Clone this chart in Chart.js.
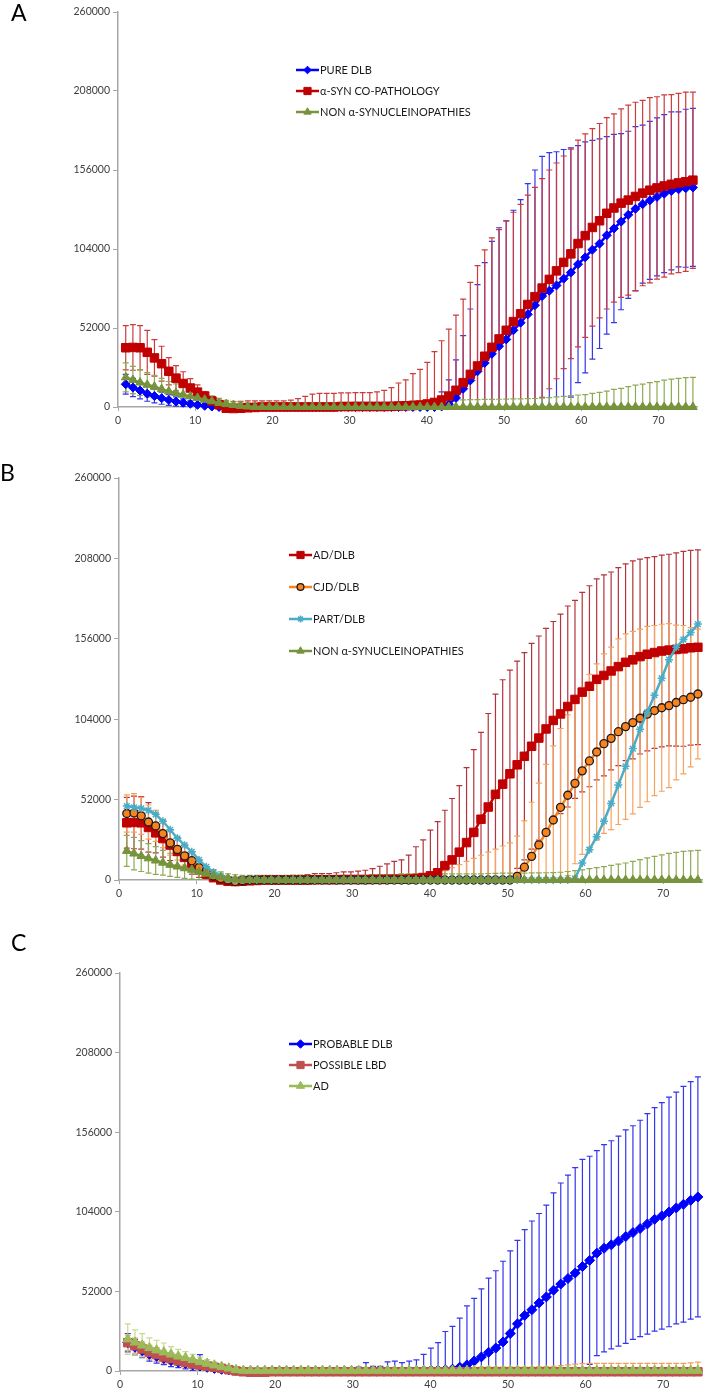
<!DOCTYPE html>
<html>
<head>
<meta charset="utf-8">
<script src="https://cdn.jsdelivr.net/npm/chart.js@4.4.1/dist/chart.umd.min.js"></script>
<style>
  body { margin: 0; background: #fff; }
  #page { position: relative; width: 709px; height: 1389px; overflow: hidden; font-family: Lato, "Open Sans", sans-serif; }
  #page canvas { position: absolute; left: 0; }
  .tag { position: absolute; font-size: 23px; line-height: 1; color: #000; }
</style>
</head>
<body>
<div id="page">
  <canvas id="chartA" width="709" height="460" style="top:0px"></canvas>
  <canvas id="chartB" width="709" height="460" style="top:460px"></canvas>
  <canvas id="chartC" width="709" height="469" style="top:920px"></canvas>
  <div class="tag" style="left:11px;top:1px">A</div>
  <div class="tag" style="left:0px;top:461px">B</div>
  <div class="tag" style="left:11px;top:931px">C</div>
</div>
<script>
// Reading times (hours) shared by every curve
const hours = [
  1.00, 1.93, 2.86, 3.79, 4.72, 5.65, 6.58, 7.51, 8.44, 9.37,
  10.30, 11.23, 12.16, 13.09, 14.02, 14.95, 15.88, 16.81, 17.74, 18.67,
  19.60, 20.53, 21.46, 22.39, 23.32, 24.25, 25.18, 26.11, 27.04, 27.97,
  28.90, 29.83, 30.76, 31.69, 32.62, 33.55, 34.48, 35.41, 36.34, 37.27,
  38.20, 39.13, 40.06, 40.99, 41.92, 42.85, 43.78, 44.71, 45.64, 46.57,
  47.50, 48.43, 49.36, 50.29, 51.22, 52.15, 53.08, 54.01, 54.94, 55.87,
  56.80, 57.73, 58.66, 59.59, 60.52, 61.45, 62.38, 63.31, 64.24, 65.17,
  66.10, 67.03, 67.96, 68.89, 69.82, 70.75, 71.68, 72.61, 73.54, 74.47
];
const yTicks = [0, 52000, 104000, 156000, 208000, 260000];
const xTicks = [0, 10, 20, 30, 40, 50, 60, 70];

// ---- Panel A (values in thousands, sd = error bar half length)
const pureDlb = [
  15, 12.8, 10.8, 8.8, 7.2, 5.8, 4.6, 3.6, 2.8, 2.1,
  1.4, 0.8, 0.3, 0, 0, 0, 0, 0, 0, 0,
  0, 0, 0, 0, 0, 0, 0, 0, 0, 0,
  0, 0, 0, 0, 0, 0, 0, 0, 0, 0,
  0, 0, 0, 0, 0.4, 1.8, 6, 12, 17.5, 23.5,
  29, 35, 40, 44.5, 50.5, 55.5, 61, 67, 73, 76.5,
  80, 84.5, 88.5, 94, 98.5, 103.5, 107.5, 113, 117.5, 122,
  126.5, 130.5, 133.5, 136, 138.3, 140.4, 142.2, 143.3, 144, 144.5
];
const pureDlbSd = [
  6.5, 6, 5.5, 5, 4.5, 4, 3.5, 3, 2.5, 2,
  1.5, 1, 0.8, 0.5, 0.5, 0.5, 0.5, 0.5, 0.5, 0.5,
  1, 1, 1, 1, 1.5, 1.5, 1.5, 2, 2, 2,
  2.5, 2.5, 3, 3, 3, 3, 3, 3, 3, 3,
  3, 3, 3.5, 5, 9.5, 16, 25, 35, 47, 57,
  66, 74, 78, 78, 79, 81, 86, 89, 92, 91,
  88, 85, 82, 78, 76, 72, 69, 65, 62, 58,
  55, 54, 52, 52, 52, 52, 52, 51, 52, 52
];
const synCoPath = [
  39, 39.2, 39, 36, 32.3, 28.5, 23.5, 19, 15.5, 12.5,
  9.8, 7.2, 4, 1.5, -0.8, -1, -0.8, -0.5, -0.3, 0,
  0, 0, 0, 0, 0, 0, 0, 0, 0, 0,
  0.3, 0.3, 0.3, 0.3, 0.3, 0.3, 0.3, 0.4, 0.6, 0.8,
  1, 1.3, 2, 3, 4.6, 7.2, 11, 16, 21.5, 27,
  33.4, 39.3, 44.8, 50.5, 56.2, 61.4, 67.5, 72.6, 78.3, 84,
  89.6, 95.2, 100.8, 107.6, 112.8, 118.2, 122.6, 127.5, 131, 134.2,
  136.2, 138.6, 140.8, 142.7, 144.2, 145.5, 146.6, 147.5, 148.3, 149.3
];
const synCoPathSd = [
  14.5, 15, 14.5, 14.5, 12, 11.5, 9, 8.3, 7.7, 6.2,
  4.8, 3, 2.5, 3, 4, 4.5, 4.5, 4.5, 4.3, 4,
  4, 4, 4, 4.5, 5.5, 7, 8.5, 9, 9, 9,
  9, 9, 9.2, 9.2, 9.2, 9.6, 10.6, 12.3, 15.2, 17,
  21, 23.5, 27.4, 33.4, 39, 44, 49.5, 55, 60.5, 66,
  70, 72, 72, 72, 72, 72, 72, 72, 72, 72,
  71, 70, 69, 68, 67, 65, 64, 63, 62, 62,
  62.5, 62, 61, 61, 60, 60, 59, 59, 59, 58
];
const nonSynA = [
  19.5, 17.8, 16.1, 14.6, 13.4, 11.8, 10.3, 9.2, 8.1, 7,
  6, 4.8, 3.8, 2.7, 1.9, 1.3, 0.7, 0.3, 0, 0,
  0, 0, 0, 0, 0, 0, 0, 0, 0, 0,
  0, 0, 0, 0, 0, 0, 0, 0, 0, 0,
  0, 0, 0, 0, 0, 0, 0, 0, 0, 0,
  0, 0, 0, 0, 0, 0, 0, 0, 0, 0,
  0, 0, 0, 0, 0, 0, 0, 0, 0, 0,
  0, 0, 0, 0, 0, 0, 0, 0, 0, 0
];
const nonSynASd = [
  9.5, 9, 8.5, 8, 7.5, 7, 6.5, 6, 5.5, 5,
  4.5, 4, 3.5, 3, 2.5, 2.5, 2.5, 2.5, 2.5, 2.5,
  2.5, 2.5, 2.5, 2.5, 2.5, 2.5, 2.5, 2.5, 2.5, 2.5,
  3, 3, 3, 3, 3, 3, 3, 3, 3.5, 3.5,
  4, 4, 4.2, 4.3, 4.4, 4.5, 4.6, 4.7, 4.8, 4.9,
  5, 5, 5.1, 5.2, 5.3, 5.4, 5.5, 5.6, 5.8, 6.2,
  6.6, 7, 7.5, 7.9, 8.2, 9, 9.6, 10.5, 11.6, 12.3,
  13.4, 14.4, 15.1, 16, 16.7, 17.7, 18.4, 18.9, 19.3, 19.5
];

// ---- Panel B
const adDlb = [
  37, 37.2, 37, 34, 30.5, 26.8, 22.6, 18.5, 14.6, 10.8,
  7.2, 3.8, 1.5, 0, -0.8, -1, -0.8, -0.5, -0.3, 0,
  0, 0, 0, 0, 0, 0, 0.2, 0.2, 0.2, 0.2,
  0.3, 0.3, 0.3, 0.3, 0.4, 0.4, 0.4, 0.5, 0.5, 0.6,
  1, 1.6, 2.7, 4.7, 9.3, 13, 18, 24.2, 30.8, 39.3,
  47.2, 55.4, 62, 68.7, 74.5, 80, 86.5, 91.8, 97.7, 103.2,
  107.4, 112.2, 116.8, 121.5, 125.3, 129.8, 132.3, 135.2, 138, 140.8,
  142.4, 144.5, 146, 147.1, 148.1, 148.7, 149.1, 149.5, 150.2, 150.5
];
const adDlbSd = [
  16.4, 17, 17, 16, 13, 12, 10, 9, 8, 7,
  5.5, 4, 3, 2.5, 2.5, 2.5, 2.5, 2.5, 2.5, 2.5,
  2.5, 2.5, 2.5, 3, 3, 3.5, 4, 4, 4, 4.5,
  5, 5, 5.5, 6, 7, 8.5, 10, 11.5, 12.5, 15.5,
  20.5, 24.3, 29.5, 33, 35.8, 39.7, 43, 48.5, 53.5, 56.2,
  60.5, 64.8, 67.5, 67, 67, 67, 66.5, 66, 65, 64,
  64.5, 65, 64, 64.5, 65, 65, 65, 64, 64, 63.6,
  64, 63, 62.5, 62, 62, 62, 62.5, 63, 63, 63
];
const cjdDlb = [
  43, 43.4, 41.5, 37.5, 35, 30, 24, 19.8, 15.6, 12.5,
  8, 4.8, 2.6, 1, 0, -1, -0.5, 0, 0, 0,
  0, 0, 0, 0, 0, 0, 0, 0, 0, 0,
  0, 0, 0, 0, 0, 0, 0, 0, 0, 0,
  0, 0, 0, 0, 0, 0, 0, 0, 0, 0,
  0, 0, 0, 0, 2.4, 8.3, 15.3, 22.7, 30.8, 38.8,
  47, 54.8, 62.5, 70.6, 77, 82.8, 88.2, 91.6, 95.9, 99.2,
  101.8, 104.6, 107.3, 109.6, 111.4, 112.8, 114.8, 116.6, 118.2, 120.3
];
const cjdDlbSd = [
  12, 12.5, 12, 11, 10, 9, 8, 7, 6, 5,
  4, 3, 2, 1.5, 1.5, 1.5, 1.5, 1.5, 1.5, 1.5,
  1.5, 1.5, 1.5, 1.5, 1.5, 1.5, 1.5, 1.5, 1.5, 1.5,
  2, 2, 2, 2, 2, 2, 2, 2, 2, 2,
  2.5, 3, 3.5, 4.5, 6, 8, 10, 12, 14, 16,
  18, 20, 22, 24, 26, 30, 35, 40, 44, 48,
  51, 52, 52, 54, 56, 57, 58, 59, 60, 60,
  59, 57.6, 56.7, 55, 54, 53, 50, 48, 45, 42
];
const partDlb = [
  47.8, 47, 46.4, 45, 42.5, 38, 32.5, 27, 22.5, 18.2,
  13, 8.5, 5, 2.6, 0.6, 0, 0, 0, 0, 0,
  0, 0, 0, 0, 0, 0, 0, 0, 0, 0,
  0, 0, 0, 0, 0, 0, 0, 0, 0, 0,
  0, 0, 0, 0, 0, 0, 0, 0, 0, 0,
  0, 0, 0, 0, 0, 0, 0, 0, 0, 0,
  0, 0, 1, 11, 19.6, 28, 38, 49.5, 61.5, 73.5,
  85, 97.5, 108.5, 119.5, 130.5, 142.5, 150.5, 155.5, 160, 165.5
];
const nonSynB = [
  18.8, 17.1, 15.5, 14, 12.6, 11.2, 9.8, 8.7, 7.6, 6.6,
  5.2, 4, 2.8, 1.8, 1, 0.4, 0, 0, 0, 0,
  0, 0, 0, 0, 0, 0, 0, 0, 0, 0,
  0, 0, 0, 0, 0, 0, 0, 0, 0, 0,
  0, 0, 0, 0, 0, 0, 0, 0, 0, 0,
  0, 0, 0, 0, 0, 0, 0, 0, 0, 0,
  0, 0, 0, 0, 0, 0, 0, 0, 0, 0,
  0, 0, 0, 0, 0, 0, 0, 0, 0, 0
];
const nonSynBSd = [
  10, 10.5, 10, 9.5, 9, 8, 7.5, 7, 6.5, 6,
  5, 4.5, 4, 3.5, 3, 3, 3, 3, 3, 3,
  3, 3, 3, 3, 3, 3, 3, 3, 3, 3,
  3, 3, 3, 3, 3.5, 3.5, 3.5, 3.5, 4, 4,
  4, 4, 4, 4, 4, 4, 4, 4, 4, 4,
  4.2, 4.3, 4.4, 4.5, 4.5, 4.5, 4.6, 4.6, 4.7, 4.8,
  5, 5.5, 6, 6.6, 7.3, 8, 8.7, 9.5, 10.3, 11,
  12, 13.2, 14.3, 15.3, 16.3, 17.2, 17.9, 18.5, 18.9, 19.2
];

// ---- Panel C
const probableDlb = [
  18.5, 15.5, 13.3, 11, 9.6, 8.2, 6.8, 5.7, 4.9, 3.9,
  3.2, 2.4, 1.7, 1.1, 0.7, 0.3, 0, 0, 0, 0,
  0, 0, 0, 0, 0, 0, 0, 0, 0, 0,
  0, 0, 0, 0, 0, 0, 0, 0, 0, 0,
  0.3, 0.4, 0.5, 0.6, 0.8, 1.2, 2.5, 4, 6.5, 9.2,
  12.2, 15, 19, 24.5, 30.8, 36.3, 40, 44.5, 48.4, 52.8,
  56.8, 60.4, 64, 68.2, 72.3, 77, 80.2, 82.4, 84.9, 87.8,
  90.4, 93.1, 96.1, 99.1, 101.3, 103.9, 106.5, 108.9, 111.5, 113.7
];
const probableDlbSd = [
  6, 5, 4.5, 4.5, 4.5, 4, 4, 3.5, 3.5, 3.5,
  7.5, 3, 2.5, 2, 1.5, 1.2, 1, 1, 1, 1,
  1, 1, 1.2, 1.5, 1.5, 1.2, 1.5, 1.5, 1.5, 2,
  2, 2, 2.5, 5.5, 3, 3, 6, 6.5, 5.5, 6.5,
  7, 10.5, 14.5, 18, 25, 28, 32, 38.5, 41, 44.5,
  48.5, 50.5, 52.7, 54, 54.5, 56, 58, 58.4, 60, 63.5,
  66, 67.5, 68.8, 70, 68, 67, 67.7, 68, 68.6, 69.7,
  69.8, 70.7, 72, 73, 74, 75, 75.7, 77, 77.6, 78.4
];
const possibleLbd = [
  18.5, 16.5, 14.4, 12.3, 10.8, 9.2, 8.1, 6.6, 5.6, 4.6,
  3.9, 3.2, 2.4, 1.7, 0.8, 0, -0.5, -0.8, -0.8, -0.8,
  -0.5, -0.5, -0.5, -0.5, -0.5, -0.5, -0.5, -0.5, -0.5, -0.5,
  -0.5, -0.5, -0.5, -0.5, -0.5, -0.5, -0.5, -0.5, -0.5, -0.5,
  -0.5, -0.5, -0.5, -0.5, -0.5, -0.5, -0.5, -0.5, -0.5, -0.5,
  -0.5, -0.5, -0.5, -0.5, -0.5, -0.5, -0.5, -0.5, -0.5, -0.5,
  -0.5, -0.5, -0.5, -0.5, -0.5, -0.5, -0.5, -0.5, -0.5, -0.5,
  -0.5, -0.5, -0.5, -0.5, -0.5, -0.5, -0.5, -0.5, -0.5, -0.5
];
const possibleLbdSd = [
  5, 5, 4.5, 4.5, 4.5, 4, 3.5, 3, 3, 2.5,
  2, 2, 1.5, 1.5, 1, 1, 1, 1, 1, 1,
  1, 1, 1, 1, 1, 1, 1, 1, 1, 1,
  1.5, 1.5, 1.5, 1.5, 1.5, 1.5, 1.5, 1.5, 1.5, 1.5,
  2, 2, 2, 2.5, 2.5, 2.5, 2.5, 2.5, 2.5, 3,
  3, 3, 3, 3, 3, 3, 3, 3.2, 3.4, 3.6,
  4, 4.5, 5, 5.3, 5.5, 5.5, 5.5, 5.5, 5.5, 5.5,
  5.5, 5.5, 5.5, 5.5, 5.5, 5.5, 5.5, 5.5, 5.8, 6.3
];
const adC = [
  20.8, 18.7, 16.8, 15.1, 13.6, 12.3, 10.9, 9.6, 8.6, 7.3,
  6, 4.9, 3.8, 2.8, 1.8, 0.8, 0.3, 0.3, 0.3, 0.3,
  0.3, 0.3, 0.3, 0.3, 0.3, 0.3, 0.3, 0.3, 0.3, 0.3,
  0.3, 0.3, 0.3, 0.3, 0.3, 0.3, 0.3, 0.3, 0.3, 0.3,
  0.3, 0.3, 0.3, 0.3, 0.3, 0.3, 0.3, 0.3, 0.3, 0.3,
  0.3, 0.3, 0.3, 0.3, 0.3, 0.3, 0.3, 0.3, 0.3, 0.3,
  0.3, 0.3, 0.3, 0.3, 0.3, 0.3, 0.3, 0.3, 0.3, 0.3,
  0.3, 0.3, 0.3, 0.3, 0.3, 0.3, 0.3, 0.3, 0.3, 0.3
];
const adCSd = [
  10, 8.2, 7.6, 6.5, 6.5, 6, 5, 4.5, 4, 3.5,
  3, 2.5, 2, 1.5, 1.5, 1.5, 1.5, 1.5, 1.5, 1.5,
  1.5, 1.5, 1.5, 1.5, 1.5, 1.5, 1.5, 1.5, 1.5, 1.5,
  1.5, 1.5, 1.5, 1.5, 1.5, 1.5, 1.5, 1.5, 1.5, 1.5,
  1.5, 1.5, 1.5, 1.5, 1.5, 1.5, 1.5, 1.5, 1.5, 1.5,
  1.5, 1.5, 1.5, 1.5, 1.5, 1.5, 1.5, 1.5, 1.5, 1.5,
  1.5, 1.5, 1.5, 1.5, 1.5, 1.5, 1.5, 1.5, 1.5, 1.5,
  1.5, 1.5, 1.5, 1.5, 1.5, 1.5, 1.5, 1.5, 1.5, 1.5
];

const FONT = 'Lato, "Open Sans", sans-serif';

// Error bars (mean +/- sd) drawn under the lines, clipped to plot area
const errorBarPlugin = {
  id: 'errorBars',
  beforeDatasetsDraw(chart) {
    const { ctx, chartArea, scales } = chart;
    const xs = scales.x, ys = scales.y;
    ctx.save();
    ctx.beginPath();
    ctx.rect(chartArea.left, chartArea.top - 2, chartArea.width + 4, chartArea.height + 2);
    ctx.clip();
    chart.data.datasets.forEach(ds => {
      if (!ds.sd) return;
      ctx.strokeStyle = ds.errColor;
      ctx.lineWidth = 1.2;
      ds.data.forEach((pt, i) => {
        const e = ds.sd[i] * 1000;
        const px = xs.getPixelForValue(pt.x);
        const hi = ys.getPixelForValue(pt.y + e);
        const lo = ys.getPixelForValue(pt.y - e);
        ctx.beginPath();
        ctx.moveTo(px, hi); ctx.lineTo(px, lo);
        ctx.moveTo(px - 3, hi); ctx.lineTo(px + 3, hi);
        ctx.moveTo(px - 3, lo); ctx.lineTo(px + 3, lo);
        ctx.stroke();
      });
    });
    ctx.restore();
  }
};

// Excel-like legend floating inside the plot
const floatLegend = {
  id: 'floatLegend',
  afterDraw(chart, args, opts) {
    const ctx = chart.ctx;
    ctx.save();
    ctx.font = '11px ' + FONT;
    ctx.textBaseline = 'middle';
    chart.data.datasets.forEach((ds, i) => {
      const y = opts.top + i * opts.gap;
      ctx.strokeStyle = ds.borderColor;
      ctx.lineWidth = 2.5;
      ctx.beginPath();
      ctx.moveTo(opts.left, y);
      ctx.lineTo(opts.left + 23, y);
      ctx.stroke();
      ctx.fillStyle = ds.pointBackgroundColor;
      ctx.strokeStyle = ds.pointBorderColor;
      ctx.lineWidth = ds.pointBorderWidth;
      Chart.helpers.drawPoint(ctx, {
        pointStyle: ds.pointStyle, radius: ds.pointRadius * 0.85,
        borderWidth: ds.pointBorderWidth, rotation: 0
      }, opts.left + 11.5, y);
      ctx.fillStyle = '#1a1a1a';
      ctx.fillText(ds.label, opts.left + 24, y + 0.5);
    });
    ctx.restore();
  }
};

function series(label, vals, sd, s) {
  return {
    label: label,
    data: hours.map((h, i) => ({ x: h, y: vals[i] * 1000 })),
    sd: sd,
    errColor: s.err,
    borderColor: s.line,
    borderWidth: s.width || 2.5,
    pointStyle: s.style,
    pointRadius: s.r,
    pointHoverRadius: s.r,
    pointBackgroundColor: s.fill || s.line,
    pointBorderColor: s.edge || s.line,
    pointBorderWidth: s.edgeWidth || 1,
    tension: 0,
    clip: false
  };
}

function makePanel(id, canvasH, area, legend, datasets) {
  const n = datasets.length;
  datasets.forEach((d, i) => { d.order = n - 1 - i; });
  const axisCol = '#a6a6a6';
  return new Chart(document.getElementById(id), {
    type: 'line',
    data: { datasets: datasets },
    options: {
      responsive: false,
      animation: false,
      events: [],
      layout: { padding: { left: 0, top: area.top, right: 709 - area.right, bottom: canvasH - area.bottom - 30 } },
      plugins: {
        legend: { display: false },
        tooltip: { enabled: false },
        floatLegend: legend
      },
      scales: {
        x: {
          type: 'linear', min: 0, max: 75,
          afterFit: s => { s.height = 30; },
          afterBuildTicks: s => { s.ticks = xTicks.map(v => ({ value: v })); },
          ticks: { font: { family: FONT, size: 10.5 }, color: '#404040', padding: 3 },
          grid: { display: true, drawOnChartArea: false, drawTicks: true, tickLength: 4, color: axisCol },
          border: { display: true, color: axisCol, width: 1.5 }
        },
        y: {
          min: 0, max: 260000,
          afterFit: s => { s.width = area.left; },
          afterBuildTicks: s => { s.ticks = yTicks.map(v => ({ value: v })); },
          ticks: { font: { family: FONT, size: 10.5 }, color: '#404040', padding: 3, callback: v => String(v) },
          grid: { display: true, drawOnChartArea: false, drawTicks: true, tickLength: 5, color: axisCol },
          border: { display: true, color: axisCol, width: 1.5 }
        }
      }
    },
    plugins: [errorBarPlugin, floatLegend]
  });
}

makePanel('chartA', 460, { top: 12, bottom: 407, left: 118, right: 697 }, { left: 296, top: 70, gap: 21 }, [
  series('PURE DLB', pureDlb, pureDlbSd, { line: '#0000ff', err: '#3535ee', style: 'rectRot', r: 4.5 }),
  series('\u03b1-SYN CO-PATHOLOGY', synCoPath, synCoPathSd, { line: '#c00000', err: '#cc3c3c', style: 'rect', r: 6 }),
  series('NON \u03b1-SYNUCLEINOPATHIES', nonSynA, nonSynASd, { line: '#77933c', err: '#8faa55', style: 'triangle', r: 5 })
]);

makePanel('chartB', 460, { top: 18, bottom: 420, left: 119, right: 704 }, { left: 289, top: 95, gap: 32 }, [
  series('AD/DLB', adDlb, adDlbSd, { line: '#c00000', err: '#b2343c', style: 'rect', r: 6 }),
  series('CJD/DLB', cjdDlb, cjdDlbSd, { line: '#f7821e', err: '#f7a25e', style: 'circle', r: 4, fill: '#f7821e', edge: '#1a1a1a', edgeWidth: 1.3 }),
  series('PART/DLB', partDlb, null, { line: '#4bacc6', style: 'star', r: 4, edgeWidth: 1.5 }),
  series('NON \u03b1-SYNUCLEINOPATHIES', nonSynB, nonSynBSd, { line: '#77933c', err: '#8faa55', style: 'triangle', r: 5 })
]);

makePanel('chartC', 469, { top: 53, bottom: 451, left: 120, right: 702 }, { left: 289, top: 124, gap: 21 }, [
  series('PROBABLE DLB', probableDlb, probableDlbSd, { line: '#0000ff', err: '#3535ee', style: 'rectRot', r: 5 }),
  series('POSSIBLE LBD', possibleLbd, possibleLbdSd, { line: '#c0504d', err: '#f0a060', style: 'rect', r: 6 }),
  series('AD', adC, adCSd, { line: '#9bbb59', err: '#c8d98f', style: 'triangle', r: 5.5 })
]);
</script>
</body>
</html>
